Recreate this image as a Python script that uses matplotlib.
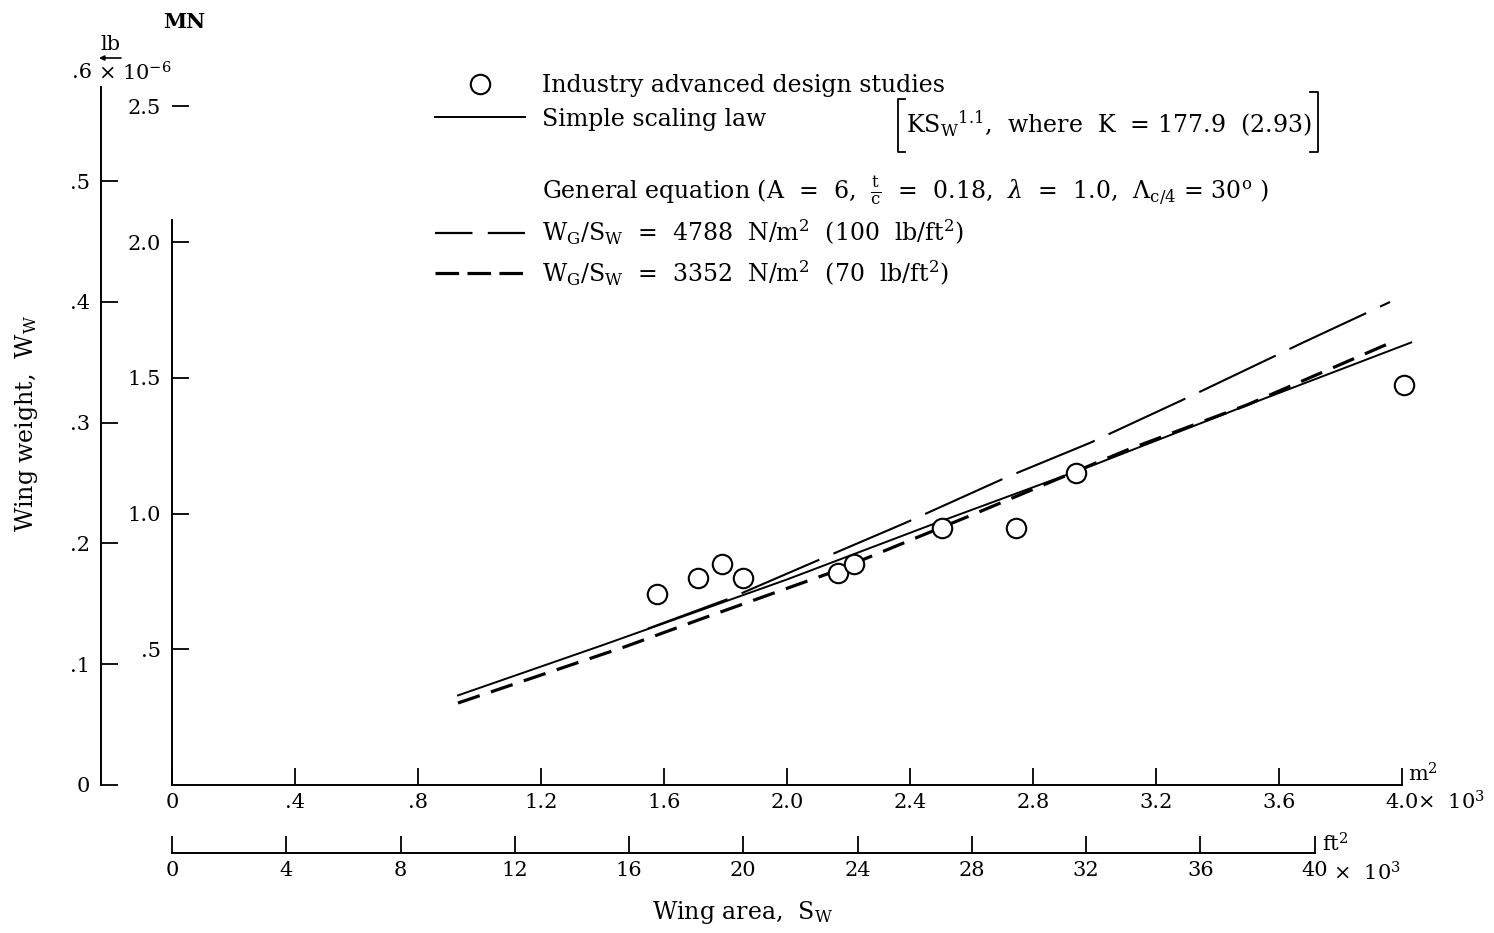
import matplotlib
matplotlib.use('Agg')
import matplotlib.pyplot as plt
from matplotlib.lines import Line2D

plt.rcParams['font.family'] = ['DejaVu Serif']
plt.rcParams['mathtext.fontset'] = 'dejavuserif'
plt.rcParams['lines.scale_dashes'] = False

# ---------------- data (wing area in 10^3 m^2, wing weight in MN) ----------------
study_area = [1.577, 1.711, 1.789, 1.857, 2.166, 2.218, 2.504, 2.745, 2.940, 4.007]
study_weight = [0.703, 0.762, 0.814, 0.762, 0.781, 0.814, 0.947, 0.947, 1.149, 1.473]

scaling_area = [0.93, 1.40, 2.00, 2.48, 3.00, 3.51, 4.03]
scaling_weight = [0.33, 0.515, 0.757, 0.963, 1.18, 1.405, 1.63]

ge100_area = [1.548, 1.815, 2.130, 2.384, 2.715, 2.985, 3.320, 3.675, 3.961]
ge100_weight = [0.576, 0.688, 0.842, 0.965, 1.134, 1.260, 1.436, 1.628, 1.779]

ge70_area = [0.930, 1.480, 1.717, 2.150, 2.585, 3.106, 3.496, 3.961]
ge70_weight = [0.302, 0.512, 0.610, 0.785, 0.987, 1.234, 1.400, 1.628]

m2_ticks = [0, 0.4, 0.8, 1.2, 1.6, 2.0, 2.4, 2.8, 3.2, 3.6, 4.0]
m2_labels = ['0', '.4', '.8', '1.2', '1.6', '2.0', '2.4', '2.8', '3.2', '3.6', '4.0']
ft2_ticks = [0, 4, 8, 12, 16, 20, 24, 28, 32, 36, 40]
ft2_labels = ['0', '4', '8', '12', '16', '20', '24', '28', '32', '36', '40']
mn_ticks = [0.5, 1.0, 1.5, 2.0, 2.5]
mn_labels = ['.5', '1.0', '1.5', '2.0', '2.5']
lb_ticks = [0, 0.1, 0.2, 0.3, 0.4, 0.5]
lb_labels = ['0', '.1', '.2', '.3', '.4', '.5']

M2_TO_FT2 = 10.7639
MN_TO_MLB = 0.224809

FS = 15      # tick labels
TS = 17      # legend and axis titles
W, H = 1494, 933
X0, XS = 172, 307.5     # pixel of x=0, pixels per unit
Y0, YS = 785, 271.5     # pixel of y=0, pixels per unit
YTOP = 2.75

fig = plt.figure(figsize=(W / 100, H / 100), dpi=100)
ax = fig.add_axes([X0 / W, (H - Y0) / H, 4.0 * XS / W, YTOP * YS / H])
ax.set_xlim(0, 4.0)
ax.set_ylim(0, YTOP)


def dx(px):
    return (px - X0) / XS


def dy(py):
    return (Y0 - py) / YS


# ---------------- marks ----------------
ax.plot(scaling_area, scaling_weight, color='k', lw=1.4, clip_on=False)
ax.plot(ge100_area, ge100_weight, color='k', lw=1.5, linestyle=(0, (61, 11)), clip_on=False)
ax.plot(ge70_area, ge70_weight, color='k', lw=2.3, linestyle=(0, (16.5, 8.5)), clip_on=False)
ax.plot(study_area, study_weight, 'o', mfc='white', mec='k', ms=14, mew=1.5,
        zorder=5, clip_on=False)

# ---------------- axes ----------------
for s in ('top', 'right'):
    ax.spines[s].set_visible(False)
ax.spines['left'].set_bounds(0, 2.08)
ax.spines['bottom'].set_bounds(0, 4.0)
for s in ('left', 'bottom'):
    ax.spines[s].set_linewidth(1.4)

ax.set_xticks(m2_ticks, labels=m2_labels)
ax.set_yticks(mn_ticks, labels=mn_labels)
ax.tick_params(axis='x', direction='in', length=12, width=1.3, pad=6, labelsize=FS)
ax.tick_params(axis='y', direction='in', length=12, width=1.3, pad=8, labelsize=FS)

secy = ax.secondary_yaxis((101 - X0) / (4.0 * XS),
                          functions=(lambda v: v * MN_TO_MLB, lambda v: v / MN_TO_MLB))
secy.set_yticks(lb_ticks, labels=lb_labels)
secy.spines['left'].set_bounds(0, 0.578)
secy.spines['left'].set_linewidth(1.4)
secy.tick_params(direction='in', length=12, width=1.3, pad=8, labelsize=FS)

secx = ax.secondary_xaxis(-(853 - Y0) / (YTOP * YS),
                          functions=(lambda v: v * M2_TO_FT2, lambda v: v / M2_TO_FT2))
secx.set_xticks(ft2_ticks, labels=ft2_labels)
secx.spines['bottom'].set_bounds(0, 40)
secx.spines['bottom'].set_linewidth(1.4)
secx.tick_params(direction='in', length=12, width=1.3, pad=6, labelsize=FS)

# ---------------- unit annotations ----------------
ax.text(dx(184), dy(22), 'MN', ha='center', va='center', fontsize=FS, fontweight='bold')
ax.text(dx(92), dy(73), '.6', ha='right', va='center', fontsize=FS)
ax.text(dx(98), dy(73), r'$\times$ 10$^{-6}$', ha='left', va='center', fontsize=FS)
ax.text(dx(110), dy(45), 'lb', ha='center', va='center', fontsize=FS)
ax.annotate('', xy=(dx(99), dy(58)), xytext=(dx(121), dy(58)), annotation_clip=False,
            arrowprops=dict(arrowstyle='-|>', lw=1.2, color='k', mutation_scale=7,
                            shrinkA=0, shrinkB=0))

ax.text(dx(1408), dy(774), r'm$^2$', ha='left', va='center', fontsize=FS)
ax.text(dx(1417), dy(802), r'$\times$  10$^3$', ha='left', va='center', fontsize=FS)
ax.text(dx(1322), dy(844), r'ft$^2$', ha='left', va='center', fontsize=FS)
ax.text(dx(1333), dy(873), r'$\times$  10$^3$', ha='left', va='center', fontsize=FS)

fig.text(742 / W, 1 - 912 / H, r'Wing area,  S$_{\rm W}$', ha='center', va='center', fontsize=TS)
fig.text(26 / W, 1 - 423 / H, r'Wing weight,  W$_{\rm W}$', ha='center', va='center',
         rotation=90, fontsize=TS)

# ---------------- legend ----------------
h_circ = Line2D([], [], marker='o', ls='none', mfc='white', mec='k', ms=14, mew=1.5)
h_solid = Line2D([], [], color='k', lw=1.4)
h_blank = Line2D([], [], ls='none')
h_head = Line2D([], [], ls='none')
h_long = Line2D([], [], color='k', lw=1.6, linestyle=(0, (27, 11)))
h_short = Line2D([], [], color='k', lw=2.3, linestyle=(0, (17, 6)))
labels = [
    'Industry advanced design studies',
    'Simple scaling law',
    ' ',
    r'General equation (A  =  6,  $\frac{\rm t}{\rm c}$  =  0.18,  $\lambda$  =  1.0,  $\Lambda_{\rm c/4}$ = 30$^{\rm o}$ )',
    r'W$_{\rm G}$/S$_{\rm W}$  =  4788  N/m$^2$  (100  lb/ft$^2$)',
    r'W$_{\rm G}$/S$_{\rm W}$  =  3352  N/m$^2$  (70  lb/ft$^2$)',
]
leg = ax.legend([h_circ, h_solid, h_blank, h_head, h_long, h_short], labels,
                loc='upper left', bbox_to_anchor=(435 / W, 1 - 74 / H),
                bbox_transform=fig.transFigure, frameon=False, fontsize=TS,
                borderpad=0, borderaxespad=0, handlelength=3.8, handletextpad=0.75,
                labelspacing=0.45, numpoints=1)

# bracketed scaling-law expression
fig.text(906 / W, 1 - 124 / H,
         r'KS$_{\rm W}$$^{1.1}$,  where  K  = 177.9  (2.93)',
         ha='left', va='center', fontsize=TS)
for xs, ys in (([905, 898, 898, 905], [99, 99, 152, 152]),
               ([1310, 1318, 1318, 1310], [92, 92, 152, 152])):
    fig.add_artist(Line2D([x / W for x in xs], [1 - y / H for y in ys],
                          transform=fig.transFigure, color='k', lw=1.3))

fig.savefig('out.png', dpi=100, facecolor='white')
